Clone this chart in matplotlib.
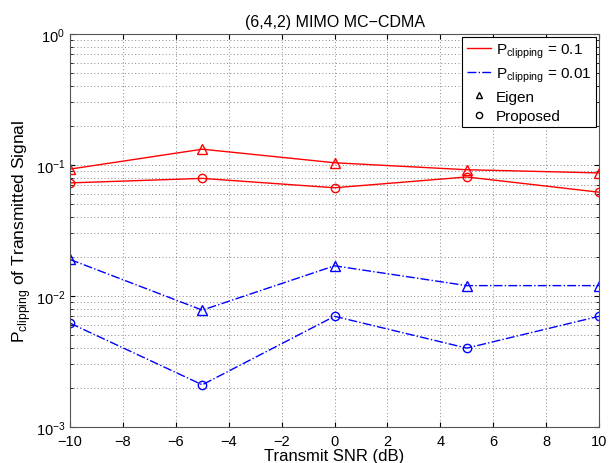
import matplotlib
matplotlib.use("Agg")
import matplotlib.pyplot as plt
from matplotlib.lines import Line2D
from matplotlib.ticker import LogLocator, NullFormatter

plt.rcParams["font.family"] = ["Liberation Sans", "DejaVu Sans"]
plt.rcParams["mathtext.fontset"] = "custom"
plt.rcParams["mathtext.rm"] = "Liberation Sans"

snr_db = [-10, -5, 0, 5, 10]
eigen_01 = [0.093, 0.132, 0.104, 0.092, 0.087]
proposed_01 = [0.073, 0.079, 0.067, 0.081, 0.062]
eigen_001 = [0.019, 0.0078, 0.017, 0.012, 0.012]
proposed_001 = [0.0062, 0.0021, 0.0070, 0.0040, 0.0070]

fig = plt.figure(figsize=(6.11, 4.64), dpi=100)
ax = fig.add_axes([0.1146, 0.0776, 0.8658, 0.847])

red = "#ff0000"
blue = "#0000ff"
ax.semilogy(snr_db, eigen_01, color=red, marker="^", mfc="none", ms=6.5, lw=1.0)
ax.semilogy(snr_db, proposed_01, color=red, marker="o", mfc="none", ms=6, lw=1.0)
ax.semilogy(snr_db, eigen_001, color=blue, ls="-.", marker="^", mfc="none", ms=6.5, lw=1.0)
ax.semilogy(snr_db, proposed_001, color=blue, ls="-.", marker="o", mfc="none", ms=6, lw=1.0)

ax.set_xlim(-10, 10)
ax.set_ylim(1e-3, 1)
ax.set_xticks(range(-10, 11, 2))
ax.set_xticklabels(["\u221210", "\u22128", "\u22126", "\u22124", "\u22122", "0", "2", "4", "6", "8", "10"])
ax.yaxis.set_minor_locator(LogLocator(base=10, subs=range(2, 10)))
ax.yaxis.set_minor_formatter(NullFormatter())
ax.tick_params(which="both", direction="in", top=True, right=True, labelsize=10.5)
ax.tick_params(axis="x", pad=5)
grid_kw = dict(ls=(0, (1, 2.5)), color="#888888", lw=0.7)
ax.grid(True, which="major", **grid_kw)
ax.grid(True, which="minor", axis="y", **grid_kw)
for s in ax.spines.values():
    s.set_color("#555555")

ax.set_title("(6,4,2) MIMO MC\u2212CDMA", fontsize=11.5)
ax.set_xlabel("Transmit SNR (dB)", fontsize=12, labelpad=0)
ax.set_ylabel(r"P$_{\rm clipping}$ of Transmitted Signal", fontsize=12.5, labelpad=2)

handles = [
    Line2D([], [], color=red, lw=1.0),
    Line2D([], [], color=blue, ls="-.", lw=1.0),
    Line2D([], [], color="black", ls="none", marker="^", mfc="none", ms=5),
    Line2D([], [], color="black", ls="none", marker="o", mfc="none", ms=4.5),
]
labels = [r"P$_{\rm clipping}$ = 0.1", r"P$_{\rm clipping}$ = 0.01", "Eigen", "Proposed"]
leg = ax.legend(handles, labels, loc="upper right", fontsize=11, fancybox=False,
                edgecolor="black", framealpha=1, borderaxespad=0.2,
                handlelength=1.6, handletextpad=0.3, labelspacing=0.35, borderpad=0.3)
leg.get_frame().set_linewidth(0.8)

fig.savefig("out.png", dpi=100)
